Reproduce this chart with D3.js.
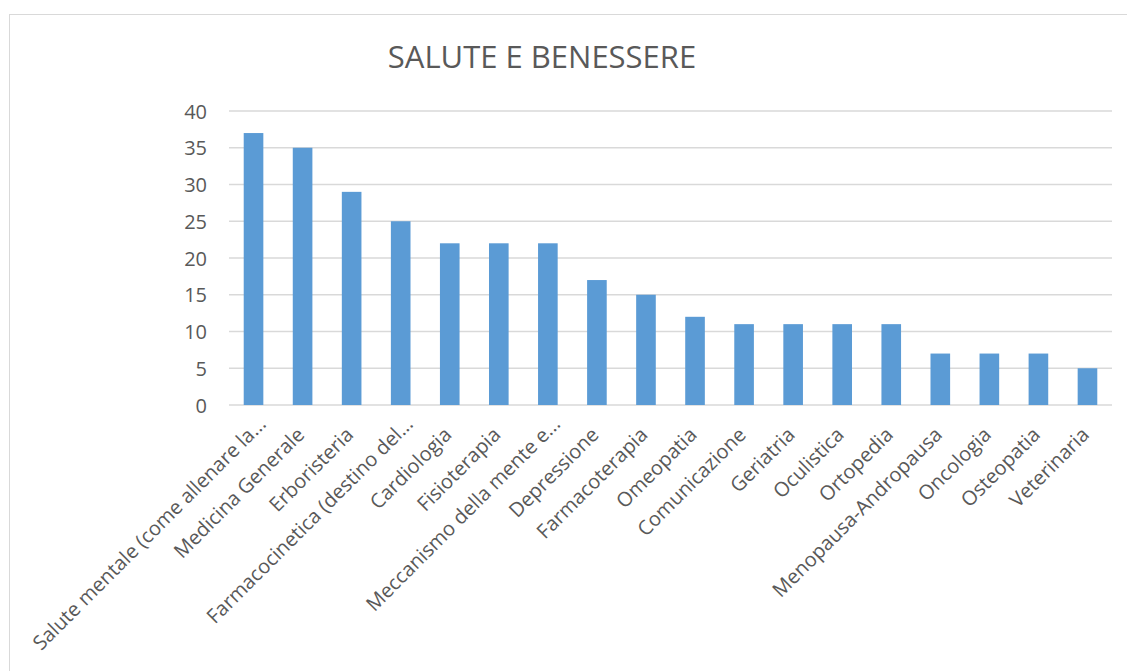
<!DOCTYPE html>
<html>
<head>
<meta charset="utf-8">
<script src="https://cdn.jsdelivr.net/npm/d3@7"></script>
<style>
  body { margin: 0; background: #fff; }
  svg { display: block; font-family: "Open Sans", sans-serif; }
  .tick text { fill: #595959; }
</style>
</head>
<body>
<div id="chart"></div>
<script>
// categories and counts
var categories = [
  "Salute mentale (come allenare la...",
  "Medicina Generale",
  "Erboristeria",
  "Farmacocinetica (destino del...",
  "Cardiologia",
  "Fisioterapia",
  "Meccanismo della mente e...",
  "Depressione",
  "Farmacoterapia",
  "Omeopatia",
  "Comunicazione",
  "Geriatria",
  "Oculistica",
  "Ortopedia",
  "Menopausa-Andropausa",
  "Oncologia",
  "Osteopatia",
  "Veterinaria"
];
var counts = [37, 35, 29, 25, 22, 22, 22, 17, 15, 12, 11, 11, 11, 11, 7, 7, 7, 5];
var yTicks = [0, 5, 10, 15, 20, 25, 30, 35, 40];
var chartTitle = "SALUTE E BENESSERE";

var width = 1127, height = 671;
var plotLeft = 229, plotRight = 1112, plotTop = 111, plotBottom = 405;

var svg = d3.select("#chart").append("svg")
  .attr("width", width)
  .attr("height", height);

// chart area border (only left and top show in the crop)
svg.append("rect")
  .attr("x", 9.5).attr("y", 14.5)
  .attr("width", 1140).attr("height", 700)
  .attr("fill", "none")
  .attr("stroke", "#d9d9d9")
  .attr("stroke-width", 1);

var x = d3.scaleBand()
  .domain(categories)
  .range([plotLeft, plotRight])
  .paddingInner(0.6)
  .paddingOuter(0.3);

var y = d3.scaleLinear()
  .domain([0, 40])
  .range([plotBottom, plotTop]);

// gridlines
svg.append("g")
  .selectAll("line")
  .data(yTicks)
  .join("line")
  .attr("x1", plotLeft).attr("x2", plotRight)
  .attr("y1", function(d) { return y(d); })
  .attr("y2", function(d) { return y(d); })
  .attr("stroke", "#d9d9d9")
  .attr("stroke-width", 1.3);

// y axis labels
var yAxis = svg.append("g")
  .attr("transform", "translate(" + (plotLeft - 22) + ",0)")
  .call(d3.axisLeft(y).tickValues(yTicks).tickSize(0).tickPadding(0));
yAxis.select(".domain").remove();
yAxis.selectAll("text")
  .attr("font-size", 20)
  .attr("font-family", "Open Sans, sans-serif")
  .attr("dy", "0.35em");

// bars
svg.append("g")
  .selectAll("rect")
  .data(counts)
  .join("rect")
  .attr("x", function(d, i) { return x(categories[i]); })
  .attr("y", function(d) { return y(d); })
  .attr("width", x.bandwidth())
  .attr("height", function(d) { return y(0) - y(d); })
  .attr("fill", "#5b9bd5");

// x axis labels, rotated (truncated ones sit a bit further along)
var xAxis = svg.append("g")
  .attr("transform", "translate(0," + plotBottom + ")")
  .call(d3.axisBottom(x).tickSize(0).tickPadding(0));
xAxis.select(".domain").remove();
xAxis.selectAll("text")
  .attr("font-size", 20)
  .attr("font-family", "Open Sans, sans-serif")
  .attr("text-anchor", "end")
  .attr("dy", 0)
  .attr("y", 0)
  .attr("dx", function(d) { return d.slice(-3) === "..." ? 15 : 0; })
  .attr("transform", "translate(3,31) rotate(-45)");

// title
svg.append("text")
  .attr("x", 542)
  .attr("y", 68)
  .attr("text-anchor", "middle")
  .attr("font-size", 31)
  .attr("fill", "#595959")
  .text(chartTitle);
</script>
</body>
</html>
